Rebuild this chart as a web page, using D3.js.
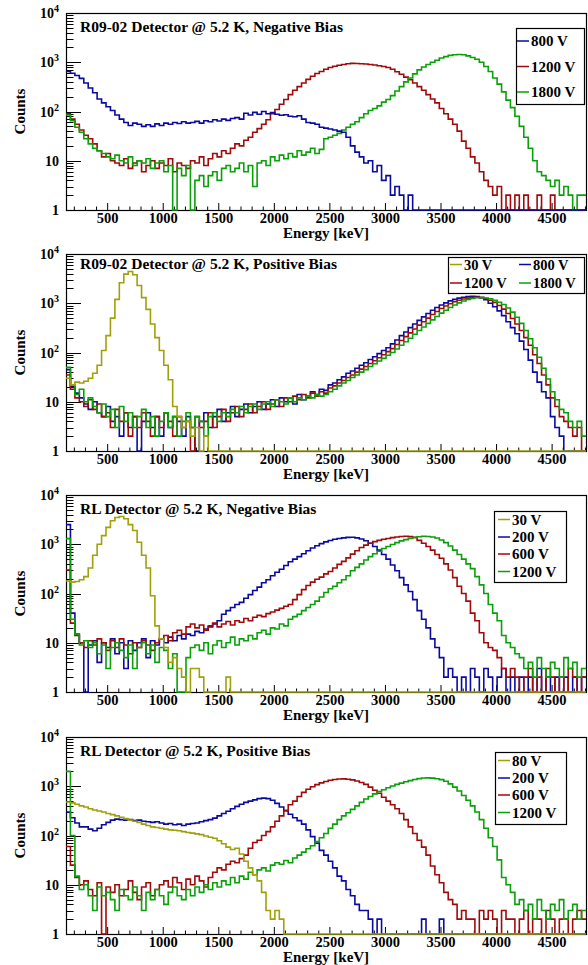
<!DOCTYPE html>
<html>
<head>
<meta charset="utf-8">
<script src="https://cdn.jsdelivr.net/npm/d3@7"></script>
<style>
  body { margin: 0; background: #fff; }
  svg text { font-family: "Liberation Serif", "DejaVu Serif", serif; font-weight: bold; fill: #000; }
</style>
</head>
<body>
<div id="chart"></div>
<script>
// Energy binning of the spectra (keV) and axis ranges
const binStart = 125;
const binWidth = 40;
const energyDomain = [125, 4805];
const countsDomain = [1, 10000];
const energyMajorTicks = [500, 1000, 1500, 2000, 2500, 3000, 3500, 4000, 4500];
const countsMajorTicks = [1, 10, 100, 1000, 10000];

const titles = [
  "R09-02 Detector @ 5.2 K, Negative Bias",
  "R09-02 Detector @ 5.2 K, Positive Bias",
  "RL Detector @ 5.2 K, Negative Bias",
  "RL Detector @ 5.2 K, Positive Bias"
];

// R09-02, negative bias
const r09Neg800 = [
  650, 600, 540, 470, 380, 300, 240, 180, 150, 125,
  105, 85, 70, 60, 52, 58, 55, 50, 54, 50,
  56, 52, 58, 55, 60, 57, 62, 58, 60, 63,
  58, 65, 62, 68, 64, 70, 66, 72, 75, 70,
  92, 85, 96, 88, 100, 90, 95, 88, 84, 86,
  80, 78, 82, 70, 60, 58, 55, 48, 46, 44,
  42, 40, 38, 30, 20, 15, 12, 9, 10, 6,
  8, 4, 5, 2, 3, 2, 1, 2, 0, 1,
  0, 1, 0, 0, 0, 0, 0, 0, 0, 0,
  0, 0, 0, 0, 0, 0, 0, 0, 0, 0,
  0, 0, 0, 0, 0, 0, 0, 0, 0, 0,
  0, 0, 0, 0, 0, 0, 0
];
const r09Neg1200 = [
  90, 70, 55, 42, 33, 28, 22, 16, 12, 14,
  10, 9, 8, 11, 7, 9, 10, 6, 8, 10,
  7, 9, 8, 11, 6, 9, 8, 7, 10, 9,
  12, 8, 11, 14, 12, 16, 14, 18, 22, 20,
  26, 30, 38, 45, 55, 68, 90, 110, 140, 175,
  220, 270, 320, 380, 450, 520, 590, 650, 720, 780,
  830, 870, 900, 930, 950, 940, 930, 920, 900, 880,
  850, 820, 780, 720, 640, 570, 500, 440, 380, 320,
  270, 220, 180, 150, 115, 90, 70, 55, 40, 25,
  18, 12, 9, 6, 4, 3, 2, 3, 1, 2,
  1, 2, 0, 2, 1, 1, 2, 1, 0, 2,
  1, 0, 1, 0, 0, 0, 0
];
const r09Neg1800 = [
  85, 65, 48, 38, 28, 22, 18, 16, 14, 12,
  11, 13, 10, 9, 12, 8, 10, 9, 11, 7,
  9, 10, 6, 8, 0, 7, 5, 8, 0, 4,
  5, 3, 5, 6, 4, 7, 8, 6, 7, 9,
  6, 8, 3, 9, 10, 8, 12, 10, 13, 11,
  14, 12, 16, 13, 15, 18, 14, 17, 28, 30,
  33, 36, 42, 48, 55, 62, 75, 90, 105, 115,
  130, 155, 175, 210, 260, 320, 400, 480, 580, 700,
  800, 900, 1000, 1100, 1220, 1300, 1380, 1420, 1440, 1420,
  1350, 1250, 1150, 1000, 820, 650, 480, 360, 250, 170,
  120, 80, 50, 30, 18, 10, 6, 5, 4, 3,
  4, 2, 3, 2, 1, 2, 2
];

// R09-02, positive bias
const r09Pos30 = [
  30, 22, 25, 24, 26, 30, 38, 55, 110, 220,
  500, 1200, 2600, 3900, 4400, 3800, 2300, 1300, 750, 380,
  200, 110, 55, 28, 8, 5, 3, 4, 2, 3,
  1, 2, 0, 1, 0, 0, 0, 0, 0, 0,
  0, 0, 0, 0, 0, 0, 0, 0, 0, 0,
  0, 0, 0, 0, 0, 0, 0, 0, 0, 0,
  0, 0, 0, 0, 0, 0, 0, 0, 0, 0,
  0, 0, 0, 0, 0, 0, 0, 0, 0, 0,
  0, 0, 0, 0, 0, 0, 0, 0, 0, 0,
  0, 0, 0, 0, 0, 0, 0, 0, 0, 0,
  0, 0, 0, 0, 0, 0, 0, 0, 0, 0,
  0, 0, 0, 0, 0, 0, 0
];
const r09Pos800 = [
  45, 20, 15, 12, 9, 7, 10, 6, 5, 8,
  4, 5, 2, 6, 3, 5, 1, 4, 6, 3,
  5, 2, 6, 3, 5, 4, 2, 5, 3, 1,
  4, 6, 3, 5, 7, 4, 6, 8, 5, 7,
  9, 6, 8, 10, 7, 9, 11, 8, 12, 10,
  12, 9, 14, 11, 13, 16, 14, 18, 17, 22,
  24, 28, 32, 38, 42, 48, 55, 62, 72, 82,
  95, 110, 125, 150, 180, 220, 260, 320, 380, 450,
  530, 620, 720, 820, 920, 1020, 1120, 1200, 1270, 1320,
  1360, 1380, 1370, 1300, 1180, 1000, 850, 700, 560, 420,
  320, 240, 170, 115, 70, 40, 25, 16, 12, 5,
  3, 2, 0, 1, 0, 1, 0
];
const r09Pos1200 = [
  35, 18, 12, 10, 8, 11, 7, 9, 5, 6,
  3, 7, 4, 6, 2, 5, 3, 6, 4, 2,
  5, 3, 6, 4, 2, 5, 3, 4, 1, 5,
  3, 4, 6, 3, 5, 7, 4, 6, 8, 5,
  7, 9, 6, 8, 10, 7, 9, 11, 8, 12,
  10, 13, 11, 14, 12, 15, 13, 16, 15, 19,
  21, 24, 27, 31, 35, 40, 46, 52, 60, 68,
  78, 90, 104, 120, 145, 175, 210, 250, 300, 360,
  420, 500, 590, 680, 780, 880, 980, 1070, 1150, 1220,
  1270, 1310, 1320, 1300, 1240, 1150, 1040, 900, 760, 620,
  490, 380, 280, 200, 140, 90, 60, 35, 22, 12,
  8, 5, 4, 3, 2, 3, 1
];
const r09Pos1800 = [
  50, 22, 14, 18, 10, 12, 8, 6, 9, 5,
  7, 3, 8, 4, 6, 3, 5, 7, 3, 5,
  2, 4, 6, 3, 5, 2, 4, 6, 3, 5,
  4, 2, 5, 6, 4, 6, 5, 7, 6, 8,
  6, 8, 9, 7, 9, 10, 8, 11, 10, 9,
  12, 10, 12, 11, 13, 12, 14, 13, 14, 16,
  18, 21, 24, 27, 31, 35, 40, 45, 52, 59,
  67, 76, 88, 100, 118, 140, 165, 195, 235, 280,
  330, 390, 460, 540, 630, 720, 820, 920, 1020, 1110,
  1190, 1250, 1290, 1300, 1280, 1230, 1150, 1050, 940, 800,
  660, 520, 390, 280, 190, 125, 80, 48, 29, 16,
  11, 7, 6, 4, 3, 4, 2
];

// RL, negative bias
const rlNeg30 = [
  180, 170, 175, 190, 220, 330, 600, 1000, 1500, 2200,
  3000, 3500, 3650, 3300, 2500, 1900, 1100, 600, 330, 90,
  22, 12, 8, 4, 5, 3, 2, 0, 3, 3,
  2, 0, 0, 0, 0, 0, 2, 0, 0, 0,
  0, 0, 0, 0, 0, 0, 0, 0, 0, 0,
  0, 0, 0, 0, 0, 0, 0, 0, 0, 0,
  0, 0, 0, 0, 0, 0, 0, 0, 0, 0,
  0, 0, 0, 0, 0, 0, 0, 0, 0, 0,
  0, 0, 0, 0, 0, 0, 0, 0, 0, 0,
  0, 0, 0, 0, 0, 0, 0, 0, 0, 0,
  0, 0, 0, 0, 0, 0, 0, 0, 0, 0,
  0, 0, 0, 0, 0, 0, 0
];
const rlNeg200 = [
  2500, 40, 15, 10, 0, 9, 11, 4, 10, 8,
  12, 6, 10, 3, 11, 7, 10, 12, 5, 11,
  9, 12, 10, 13, 11, 14, 12, 15, 14, 17,
  16, 19, 21, 24, 28, 38, 45, 52, 60, 66,
  80, 95, 115, 135, 165, 190, 230, 270, 310, 370,
  440, 500, 560, 640, 740, 840, 930, 1030, 1120, 1190,
  1260, 1310, 1350, 1380, 1390, 1350, 1280, 1180, 1050, 900,
  760, 620, 500, 380, 290, 210, 150, 110, 75, 45,
  30, 20, 12, 8, 5, 2, 3, 2, 0, 2,
  1, 3, 2, 1, 3, 2, 1, 2, 3, 1,
  2, 1, 2, 0, 2, 1, 3, 1, 2, 1,
  2, 0, 2, 1, 2, 1, 2
];
const rlNeg600 = [
  300, 25, 14, 10, 8, 11, 9, 12, 10, 7,
  11, 8, 12, 9, 6, 10, 8, 11, 9, 7,
  10, 12, 14, 11, 16, 18, 15, 21, 24, 20,
  23, 18, 22, 25, 21, 24, 27, 23, 28, 26,
  31, 28, 33, 36, 34, 39, 42, 46, 50, 55,
  60, 75, 95, 120, 145, 170, 195, 215, 250, 280,
  330, 390, 450, 530, 630, 740, 860, 960, 1050, 1130,
  1200, 1260, 1310, 1360, 1400, 1440, 1450, 1430, 1380, 1200,
  1050, 900, 760, 620, 520, 400, 300, 210, 140, 100,
  70, 40, 28, 16, 10, 8, 7, 5, 3, 2,
  3, 2, 1, 2, 3, 1, 2, 1, 3, 2,
  1, 2, 1, 3, 2, 1, 2
];
const rlNeg1200 = [
  1300, 30, 15, 9, 11, 8, 10, 6, 9, 3,
  8, 10, 7, 5, 9, 3, 8, 10, 6, 9,
  4, 8, 7, 3, 6, 0, 0, 5, 8, 9,
  7, 10, 6, 9, 11, 8, 10, 13, 9, 12,
  11, 14, 12, 16, 18, 15, 20, 19, 24, 22,
  30, 34, 38, 45, 52, 60, 70, 85, 105, 125,
  140, 165, 190, 230, 290, 340, 400, 480, 560, 640,
  720, 820, 900, 990, 1080, 1170, 1240, 1310, 1370, 1420,
  1450, 1440, 1400, 1340, 1220, 1080, 920, 760, 620, 500,
  400, 320, 220, 150, 100, 60, 40, 28, 14, 10,
  8, 6, 5, 3, 4, 2, 5, 3, 2, 4,
  3, 2, 5, 3, 4, 2, 3
];

// RL, positive bias
const rlPos80 = [
  480, 460, 430, 400, 380, 350, 330, 315, 300, 280,
  265, 250, 235, 220, 205, 195, 185, 170, 160, 150,
  145, 140, 135, 130, 128, 125, 120, 115, 112, 108,
  104, 98, 92, 88, 78, 68, 58, 52, 55, 42,
  30, 22, 16, 12, 7, 3, 2, 3, 2, 0,
  0, 0, 0, 0, 0, 0, 0, 0, 0, 0,
  0, 0, 0, 0, 0, 0, 0, 0, 0, 0,
  0, 0, 0, 0, 0, 0, 0, 0, 0, 0,
  0, 0, 0, 0, 0, 0, 0, 0, 0, 0,
  0, 0, 0, 0, 0, 0, 0, 0, 0, 0,
  0, 0, 0, 0, 0, 0, 0, 0, 0, 0,
  0, 0, 0, 0, 0, 0, 0
];
const rlPos200 = [
  300, 230, 180, 150, 150, 135, 125, 140, 165, 185,
  205, 215, 210, 205, 210, 200, 205, 195, 190, 185,
  190, 180, 170, 175, 165, 170, 160, 170, 175, 180,
  190, 200, 210, 225, 250, 280, 310, 350, 390, 430,
  470, 500, 530, 560, 575, 560, 520, 450, 380, 320,
  270, 230, 200, 170, 130, 95, 70, 50, 40, 30,
  22, 15, 12, 8, 6, 4, 3, 3, 2, 0,
  2, 0, 0, 0, 0, 0, 0, 0, 0, 0,
  2, 0, 0, 0, 2, 0, 0, 0, 0, 0,
  0, 0, 0, 0, 0, 0, 0, 0, 0, 0,
  0, 0, 0, 0, 0, 0, 0, 0, 0, 0,
  0, 0, 0, 0, 0, 0, 0
];
const rlPos600 = [
  60, 25, 14, 10, 12, 8, 6, 11, 0, 9,
  7, 10, 6, 8, 12, 7, 5, 9, 11, 6,
  8, 10, 12, 9, 14, 11, 8, 13, 10, 15,
  12, 9, 14, 18, 22, 20, 26, 30, 28, 34,
  40, 55, 72, 80, 100, 120, 150, 195, 250, 320,
  420, 500, 620, 750, 870, 980, 1080, 1170, 1250, 1320,
  1370, 1400, 1410, 1390, 1350, 1280, 1190, 1090, 960, 830,
  720, 600, 500, 420, 350, 280, 210, 150, 110, 80,
  58, 40, 24, 16, 11, 7, 5, 4, 2, 3,
  2, 2, 1, 3, 2, 3, 2, 1, 3, 2,
  2, 1, 2, 3, 1, 2, 2, 1, 3, 2,
  1, 2, 2, 1, 2, 3, 2
];
const rlPos1200 = [
  2000, 100, 15, 8, 10, 6, 3, 9, 6, 7,
  5, 3, 8, 6, 5, 9, 6, 3, 7, 5,
  8, 6, 4, 7, 9, 6, 5, 8, 6, 9,
  7, 10, 8, 11, 9, 12, 10, 14, 11, 15,
  13, 18, 16, 20, 22, 19, 25, 28, 26, 31,
  28, 35, 40, 46, 54, 62, 75, 90, 110, 140,
  170, 210, 250, 290, 340, 400, 470, 550, 620, 700,
  780, 850, 930, 1010, 1090, 1160, 1230, 1300, 1370, 1430,
  1470, 1480, 1460, 1420, 1360, 1260, 1120, 960, 800, 650,
  520, 400, 300, 210, 140, 90, 60, 32, 14, 10,
  7, 4, 5, 3, 4, 2, 5, 3, 2, 4,
  3, 5, 2, 3, 4, 2, 3
];

// ROOT-like colours
const blue = "#0a0aa0";
const red = "#a00a0a";
const green = "#0aa00a";
const olive = "#a0a00a";

const width = 588, height = 965;
const plotLeft = 66, plotWidth = 520, plotHeight = 197;

const panels = [
  {
    title: titles[0], top: 13, titleDy: 19,
    series: [
      { label: "800 V", color: blue, values: r09Neg800 },
      { label: "1200 V", color: red, values: r09Neg1200 },
      { label: "1800 V", color: green, values: r09Neg1800 }
    ],
    drawOrder: [1, 2, 0],
    legend: { x: 516, dy: 15, w: 68, h: 76, colX: [1], rowY: [18, 43.5, 69], cols: 1, size: 15 }
  },
  {
    title: titles[1], top: 254, titleDy: 15,
    series: [
      { label: "30 V", color: olive, values: r09Pos30 },
      { label: "800 V", color: blue, values: r09Pos800 },
      { label: "1200 V", color: red, values: r09Pos1200 },
      { label: "1800 V", color: green, values: r09Pos1800 }
    ],
    drawOrder: [1, 2, 3, 0],
    legend: { x: 448, dy: 3, w: 136, h: 36, colX: [2, 71], rowY: [12.5, 31], cols: 2, size: 14.5 }
  },
  {
    title: titles[2], top: 495, titleDy: 19,
    series: [
      { label: "30 V", color: olive, values: rlNeg30 },
      { label: "200 V", color: blue, values: rlNeg200 },
      { label: "600 V", color: red, values: rlNeg600 },
      { label: "1200 V", color: green, values: rlNeg1200 }
    ],
    drawOrder: [1, 2, 3, 0],
    legend: { x: 494, dy: 16, w: 72, h: 71, colX: [4], rowY: [13.5, 31, 48, 65.5], cols: 1, size: 15 }
  },
  {
    title: titles[3], top: 737, titleDy: 19,
    series: [
      { label: "80 V", color: olive, values: rlPos80 },
      { label: "200 V", color: blue, values: rlPos200 },
      { label: "600 V", color: red, values: rlPos600 },
      { label: "1200 V", color: green, values: rlPos1200 }
    ],
    drawOrder: [1, 2, 3, 0],
    legend: { x: 495, dy: 15, w: 71, h: 72, colX: [3], rowY: [13.5, 31, 48, 65.5], cols: 1, size: 15 }
  }
];

const svg = d3.select("#chart").append("svg")
  .attr("width", width)
  .attr("height", height);

const x = d3.scaleLinear()
  .domain(energyDomain)
  .range([plotLeft, plotLeft + plotWidth]);

// histogram -> list of [lowEdge, content], closed with the last upper edge
function histPoints (values) {
  let pts = values.map((v, i) => [binStart + i * binWidth, v]);
  pts.push([binStart + values.length * binWidth, values[values.length - 1]]);
  return pts;
}

function drawPanel (p, k) {
  let top = p.top, bottom = top + plotHeight;
  let g = svg.append("g").attr("class", "panel");

  let y = d3.scaleLog()
    .domain(countsDomain)
    .range([bottom, top]);

  // Frame
  g.append("rect")
    .attr("x", plotLeft + 0.5)
    .attr("y", top + 0.5)
    .attr("width", plotWidth)
    .attr("height", plotHeight)
    .attr("fill", "none")
    .attr("stroke", "#000")
    .attr("stroke-width", 1.2);

  // X ticks: majors every 500, minors every 100
  let xMinor = d3.range(200, energyDomain[1], 100).filter((e) => e % 500 !== 0);
  g.selectAll(".xminor").data(xMinor).enter().append("line")
    .attr("x1", (d) => x(d)).attr("x2", (d) => x(d))
    .attr("y1", bottom).attr("y2", bottom - 3.5)
    .attr("stroke", "#000");
  g.selectAll(".xmajor").data(energyMajorTicks).enter().append("line")
    .attr("x1", (d) => x(d)).attr("x2", (d) => x(d))
    .attr("y1", bottom).attr("y2", bottom - 7)
    .attr("stroke", "#000");
  g.selectAll(".xlabel").data(energyMajorTicks).enter().append("text")
    .attr("x", (d) => x(d))
    .attr("y", bottom + 13)
    .attr("text-anchor", "middle")
    .attr("font-size", 14.5)
    .text((d) => d);

  // Y ticks: log decades with 2..9 minors
  let yMinor = [];
  for (let dec = 1; dec < 10000; dec *= 10) {
    for (let m = 2; m <= 9; m++) yMinor.push(m * dec);
  }
  g.selectAll(".yminor").data(yMinor).enter().append("line")
    .attr("x1", plotLeft).attr("x2", plotLeft + 7.5)
    .attr("y1", (d) => Math.round(y(d)) + 0.5).attr("y2", (d) => Math.round(y(d)) + 0.5)
    .attr("stroke", "#000");
  g.selectAll(".ymajor").data(countsMajorTicks).enter().append("line")
    .attr("x1", plotLeft).attr("x2", plotLeft + 15)
    .attr("y1", (d) => Math.round(y(d)) + 0.5).attr("y2", (d) => Math.round(y(d)) + 0.5)
    .attr("stroke", "#000");

  let ylab = g.selectAll(".ylabel").data(countsMajorTicks).enter().append("text")
    .attr("x", 59)
    .attr("y", (d) => y(d) + 5)
    .attr("text-anchor", "end")
    .attr("font-size", 14);
  ylab.each(function (d) {
    let t = d3.select(this);
    let exp = Math.round(Math.log10(d));
    if (exp < 2) {
      t.text(d);
    } else {
      t.append("tspan").text("10");
      t.append("tspan").attr("dy", -6).attr("font-size", 10).text(exp);
    }
  });

  // Axis titles
  g.append("text")
    .attr("transform", "translate(25," + (top + plotHeight / 2) + ") rotate(-90)")
    .attr("text-anchor", "middle")
    .attr("font-size", 15)
    .text("Counts");
  g.append("text")
    .attr("x", plotLeft + plotWidth / 2)
    .attr("y", bottom + 28)
    .attr("text-anchor", "middle")
    .attr("font-size", 15)
    .text("Energy [keV]");

  // Histograms, clipped to the frame (empty bins sit on the bottom line)
  let clipId = "clip" + k;
  g.append("clipPath").attr("id", clipId)
    .append("rect")
    .attr("x", plotLeft)
    .attr("y", top)
    .attr("width", plotWidth + 1)
    .attr("height", plotHeight + 1.5);

  let line = d3.line()
    .x((d) => x(d[0]))
    .y((d) => y(Math.max(d[1], countsDomain[0])))
    .curve(d3.curveStepAfter);

  let hg = g.append("g").attr("clip-path", "url(#" + clipId + ")");
  p.drawOrder.forEach((si) => {
    let s = p.series[si];
    hg.append("path")
      .attr("d", line(histPoints(s.values)))
      .attr("fill", "none")
      .attr("stroke", s.color)
      .attr("stroke-width", 1.6);
  });

  // Title
  g.append("text")
    .attr("x", 80)
    .attr("y", top + p.titleDy)
    .attr("font-size", 15.5)
    .text(p.title);

  // Legend
  let L = p.legend;
  let lg = g.append("g");
  lg.append("rect")
    .attr("x", L.x + 0.5)
    .attr("y", top + L.dy + 0.5)
    .attr("width", L.w)
    .attr("height", L.h)
    .attr("fill", "#fff")
    .attr("stroke", "#000")
    .attr("stroke-width", 1.2);
  p.series.forEach((s, i) => {
    let col = i % L.cols, row = Math.floor(i / L.cols);
    let ex = L.x + L.colX[col];
    let ey = top + L.dy + L.rowY[row];
    lg.append("line")
      .attr("x1", ex).attr("x2", ex + 12)
      .attr("y1", ey - 5).attr("y2", ey - 5)
      .attr("stroke", s.color)
      .attr("stroke-width", 1.5);
    lg.append("text")
      .attr("x", ex + 14)
      .attr("y", ey)
      .attr("font-size", L.size)
      .text(s.label);
  });
}

panels.forEach((p, k) => drawPanel(p, k));
</script>
</body>
</html>
